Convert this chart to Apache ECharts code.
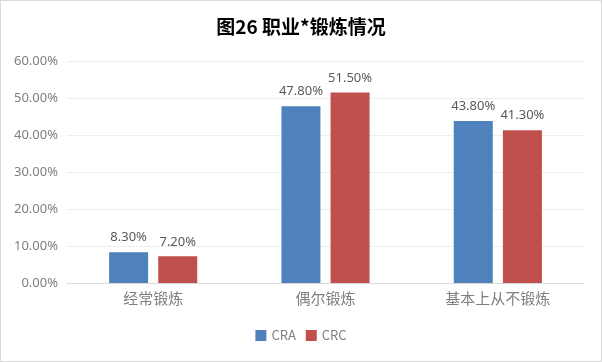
<!DOCTYPE html>
<html><head><meta charset="utf-8">
<script src="https://cdn.jsdelivr.net/npm/echarts@6/dist/echarts.min.js"></script>
<style>html,body{margin:0;padding:0;background:#fff}#c{width:600px;height:360px;border:1px solid #d9d9d9}</style>
</head><body><div id="c"></div>
<script>
const categories = ['经常锻炼', '偶尔锻炼', '基本上从不锻炼'];
const seriesNames = ['CRA', 'CRC'];
const craValues = [8.3, 47.8, 43.8];
const crcValues = [7.2, 51.5, 41.3];
const titleText = '图26 职业*锻炼情况';

const chart = echarts.init(document.getElementById('c'), null, {renderer: 'canvas'});
const font = '"Noto Sans CJK SC", "Noto Sans", sans-serif';
const lbl = {show: true, position: 'top', distance: 8, color: '#595959', fontSize: 13, fontFamily: '"Noto Sans", sans-serif',
  formatter: p => p.value.toFixed(2) + '%'};
chart.setOption({
  animation: false,
  title: {text: titleText, left: 'center', top: 11,
    textStyle: {fontSize: 19, fontWeight: 'bold', color: '#000', fontFamily: font}},
  legend: {bottom: 14, left: 'center', itemWidth: 11, itemHeight: 11, itemGap: 10, icon: 'rect',
    textStyle: {color: '#7f7f7f', fontSize: 13, fontFamily: font}},
  grid: {left: 66, right: 17, top: 60, bottom: 78},
  xAxis: {type: 'category', data: categories,
    axisLine: {lineStyle: {color: '#d9d9d9'}}, axisTick: {show: false},
    axisLabel: {color: '#7f7f7f', fontSize: 15, fontFamily: font, margin: 8}},
  yAxis: {type: 'value', min: 0, max: 60, interval: 10,
    axisLine: {show: false}, axisTick: {show: false},
    splitLine: {lineStyle: {color: '#eeeeee'}},
    axisLabel: {color: '#7f7f7f', fontSize: 13, fontFamily: '"Noto Sans", sans-serif', margin: 9,
      formatter: v => v.toFixed(2) + '%'}},
  series: [
    {name: seriesNames[0], type: 'bar', data: craValues, barWidth: 39, barGap: '26%',
      itemStyle: {color: '#4F81BD'}, label: lbl},
    {name: seriesNames[1], type: 'bar', data: crcValues, barWidth: 39,
      itemStyle: {color: '#C0504D'}, label: lbl}
  ]
});
</script></body></html>
